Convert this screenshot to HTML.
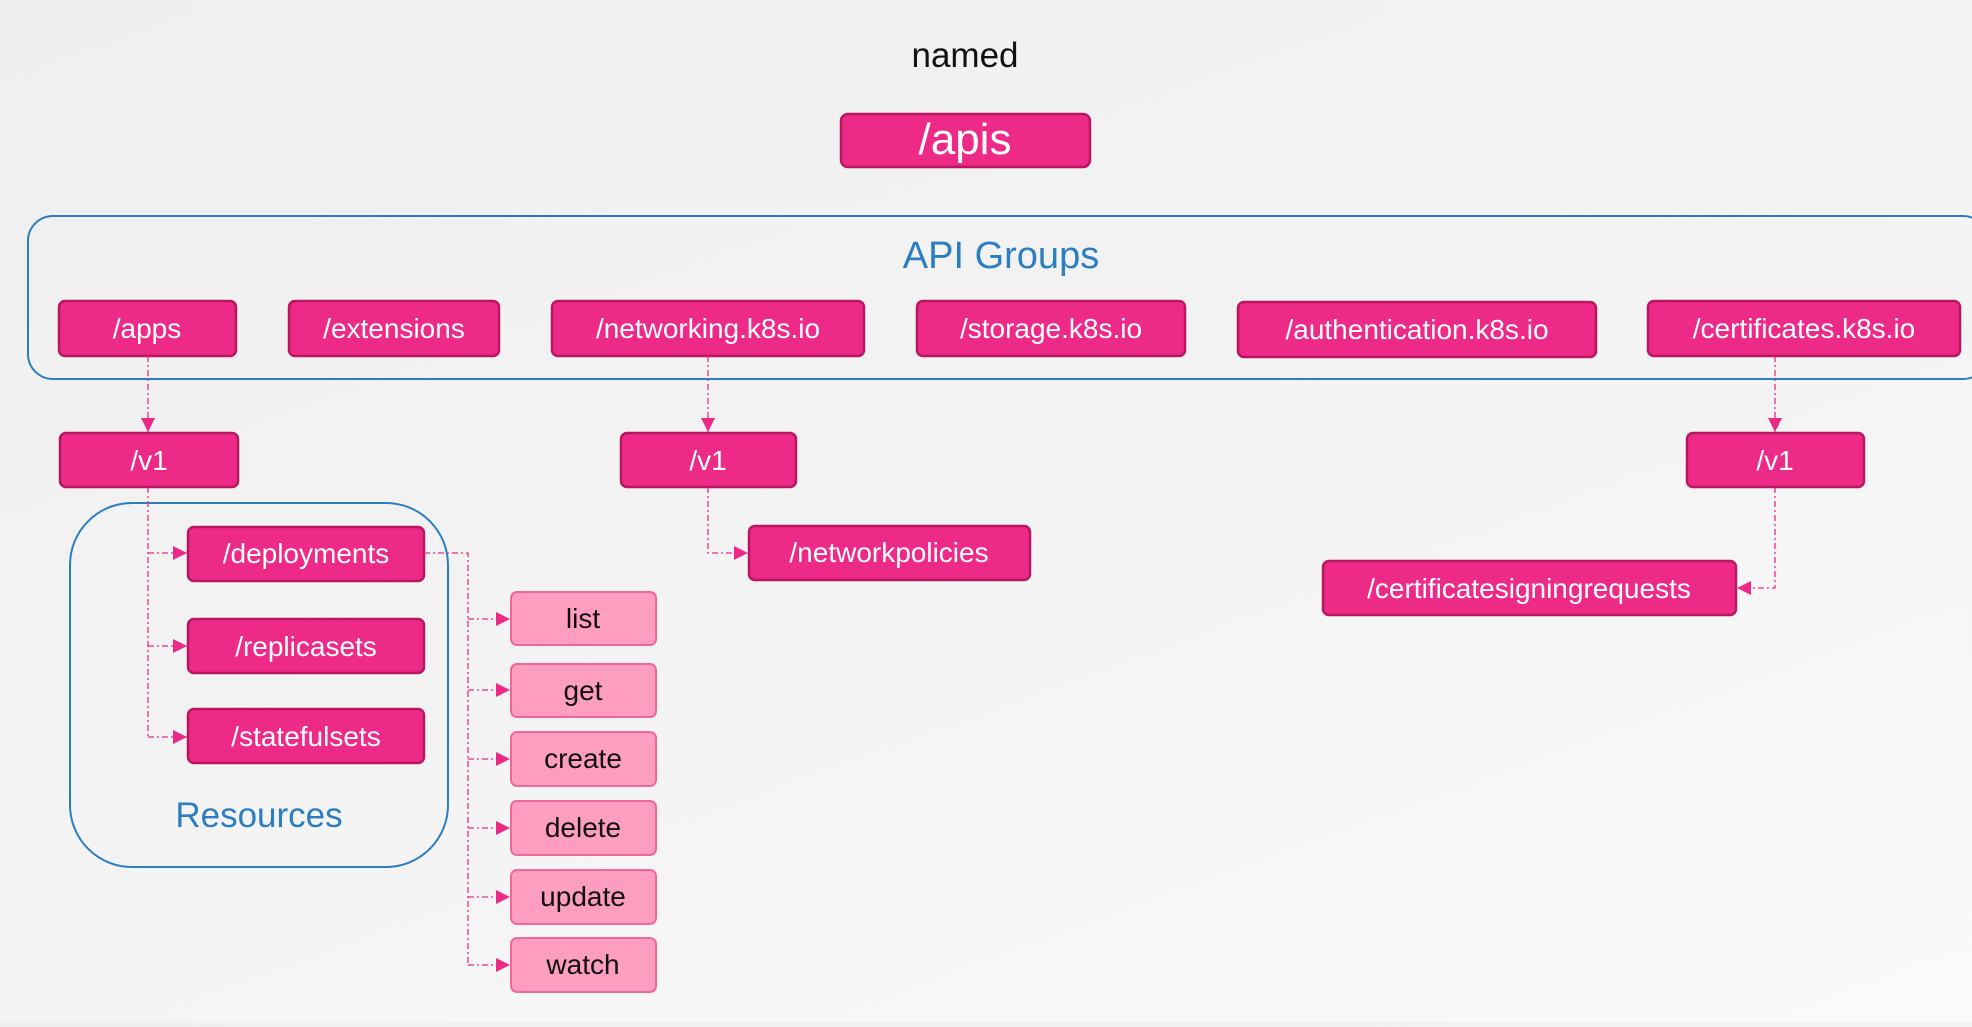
<!DOCTYPE html>
<html><head><meta charset="utf-8"><style>
html,body{margin:0;padding:0;}
body{width:1972px;height:1022px;overflow:hidden;background:linear-gradient(160deg,#efefef 0%,#f3f3f3 50%,#fafafa 100%);}
svg text{font-family:"Liberation Sans",sans-serif;}
</style></head><body>
<svg width="1972" height="1022" viewBox="0 0 1972 1022" xmlns="http://www.w3.org/2000/svg">
<defs>
<marker id="ad" markerWidth="10" markerHeight="10" refX="9" refY="5" orient="auto" markerUnits="userSpaceOnUse"><path d="M0,0 L10,5 L0,10 z" fill="#ec2a86"/></marker>
<marker id="a" viewBox="0 0 10 10" markerWidth="14" markerHeight="14" refX="10" refY="5" orient="auto" markerUnits="userSpaceOnUse"><path d="M0,0 L10,5 L0,10 z" fill="#ec2a86"/></marker>
</defs>
<text x="965" y="67" font-size="35" text-anchor="middle" fill="#111">named</text>
<rect x="841" y="114" width="249" height="53" rx="7" fill="#ee2a89" stroke="#b8175f" stroke-width="2.5"/>
<text x="965" y="154" font-size="44" text-anchor="middle" fill="#fff">/apis</text>

<rect x="28" y="216" width="1960" height="163" rx="25" fill="none" stroke="#2b7ec2" stroke-width="2"/>
<text x="1001" y="268" font-size="38" text-anchor="middle" fill="#2b7ec2">API Groups</text>

<g fill="#ee2a89" stroke="#b8175f" stroke-width="2.5">
<rect x="59" y="301" width="177" height="55" rx="6"/>
<rect x="289" y="301" width="210" height="55" rx="6"/>
<rect x="552" y="301" width="312" height="55" rx="6"/>
<rect x="917" y="301" width="268" height="55" rx="6"/>
<rect x="1238" y="302" width="358" height="55" rx="6"/>
<rect x="1648" y="301" width="312" height="55" rx="6"/>
<rect x="60" y="433" width="178" height="54" rx="6"/>
<rect x="621" y="433" width="175" height="54" rx="6"/>
<rect x="1687" y="433" width="177" height="54" rx="6"/>
<rect x="188" y="527" width="236" height="54" rx="6"/>
<rect x="188" y="619" width="236" height="54" rx="6"/>
<rect x="188" y="709" width="236" height="54" rx="6"/>
<rect x="749" y="526" width="281" height="54" rx="6"/>
<rect x="1323" y="561" width="413" height="54" rx="6"/>
</g>
<g fill="#fff" font-size="28" text-anchor="middle">
<text x="147" y="338">/apps</text>
<text x="394" y="338">/extensions</text>
<text x="708" y="338">/networking.k8s.io</text>
<text x="1051" y="338">/storage.k8s.io</text>
<text x="1417" y="339">/authentication.k8s.io</text>
<text x="1804" y="338">/certificates.k8s.io</text>
<text x="149" y="470">/v1</text>
<text x="708" y="470">/v1</text>
<text x="1775" y="470">/v1</text>
<text x="306" y="563">/deployments</text>
<text x="306" y="656">/replicasets</text>
<text x="306" y="746">/statefulsets</text>
<text x="889" y="562">/networkpolicies</text>
<text x="1529" y="598">/certificatesigningrequests</text>
</g>

<rect x="70" y="503" width="378" height="364" rx="62" fill="none" stroke="#2b7ec2" stroke-width="2"/>
<text x="259" y="827" font-size="35" text-anchor="middle" fill="#2b7ec2">Resources</text>

<g fill="#fd9dbf" stroke="#f0679b" stroke-width="2">
<rect x="511" y="592" width="145" height="53" rx="6"/>
<rect x="511" y="664" width="145" height="53" rx="6"/>
<rect x="511" y="732" width="145" height="54" rx="6"/>
<rect x="511" y="801" width="145" height="54" rx="6"/>
<rect x="511" y="870" width="145" height="54" rx="6"/>
<rect x="511" y="938" width="145" height="54" rx="6"/>
</g>
<g fill="#111" font-size="28" text-anchor="middle">
<text x="583" y="628">list</text>
<text x="583" y="700">get</text>
<text x="583" y="768">create</text>
<text x="583" y="837">delete</text>
<text x="583" y="906">update</text>
<text x="583" y="974">watch</text>
</g>

<g fill="none" stroke="#ec2a86" stroke-width="1.3" stroke-dasharray="6,3,2,3">
<path d="M148,356 V432" marker-end="url(#a)"/>
<path d="M708,356 V432" marker-end="url(#a)"/>
<path d="M1775,356 V432" marker-end="url(#a)"/>
<path d="M148,487 V737"/>
<path d="M148,553 H187" marker-end="url(#a)"/>
<path d="M148,646 H187" marker-end="url(#a)"/>
<path d="M148,737 H187" marker-end="url(#a)"/>
<path d="M424,553 H468 V965"/>
<path d="M468,619 H510" marker-end="url(#a)"/>
<path d="M468,690 H510" marker-end="url(#a)"/>
<path d="M468,759 H510" marker-end="url(#a)"/>
<path d="M468,828 H510" marker-end="url(#a)"/>
<path d="M468,897 H510" marker-end="url(#a)"/>
<path d="M468,965 H510" marker-end="url(#a)"/>
<path d="M708,487 V553 H748" marker-end="url(#a)"/>
<path d="M1775,487 V588 H1737" marker-end="url(#a)"/>
</g>
</svg>
</body></html>
